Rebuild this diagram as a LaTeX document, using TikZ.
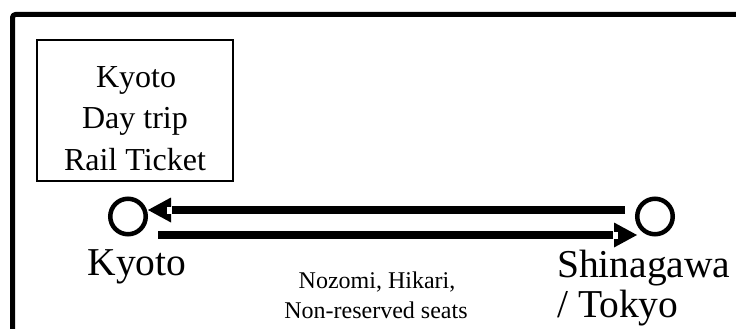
\documentclass[tikz,border=0pt]{standalone}
\usepackage{fontspec}
\setmainfont{Liberation Serif}
\usetikzlibrary{calc}
\tikzset{
  frameline/.style={line width=5pt, line join=round},
  ticketbox/.style={draw, line width=2pt, rectangle, minimum width=195.5pt, minimum height=141pt, inner sep=0pt},
  station/.style={draw, circle, line width=4.5pt, minimum size=35.5pt, inner sep=0pt},
  railbar/.style={line width=8pt},
  tickettext/.style={font=\fontsize{32}{40}\selectfont, anchor=base, inner sep=0pt},
  stationtext/.style={font=\fontsize{39.5}{40}\selectfont, anchor=base, inner sep=0pt},
  notetext/.style={font=\fontsize{24}{30}\selectfont, anchor=base, inner sep=0pt}
}
\begin{document}
\begin{tikzpicture}[x=1pt,y=-1pt]
\useasboundingbox (0,0) rectangle (736,329);
\clip (0,0) rectangle (736,329);
% outer frame (cut off at right and bottom)
\draw[frameline, rounded corners=3pt] (12.5,360) -- (12.5,14.5) -- (780,14.5);
% ticket box
\node[ticketbox] (ticket) at (134.75,110.5) {};
\node[tickettext] (tk1) at (136,87) {Kyoto};
\node[tickettext] (tk2) at (135,128.5) {Day trip};
\node[tickettext] (tk3) at (135,170) {Rail Ticket};
% stations
\node[station] (kyoto) at (128,216.5) {};
\node[station] (shin) at (655,216.5) {};
\node[stationtext] (kyotolbl) at (137,275) {Kyoto};
\node[stationtext, anchor=base west] (shinlbl1) at (557,277) {Shinagawa};
\node[stationtext, anchor=base west] (shinlbl2) at (557,317) {/ Tokyo};
\node[notetext] (note1) at (377,288) {Nozomi, Hikari,};
\node[notetext] (note2) at (376,318) {Non-reserved seats};
% upper arrow: Shinagawa -> Kyoto
\coordinate (utip) at ([shift={(20,-6.5)}]kyoto.center);
\coordinate (uend) at ([shift={(-30,-6.5)}]shin.center);
\draw[railbar] (uend) -- ([xshift=24]utip);
\fill (utip) -- ++(23,-12.5) -- ++(0,25) -- cycle;
\fill[white] ([shift={(19,-3.5)}]utip) rectangle ([shift={(24,3.5)}]utip);
% lower arrow: Kyoto -> Shinagawa
\coordinate (ltip) at ([shift={(-18,18.5)}]shin.center);
\coordinate (lstart) at ([shift={(30,18.5)}]kyoto.center);
\draw[railbar] (lstart) -- ([xshift=-24]ltip);
\fill (ltip) -- ++(-23,-12.5) -- ++(0,25) -- cycle;
\fill[white] ([shift={(-19,-3.5)}]ltip) rectangle ([shift={(-24,3.5)}]ltip);
\end{tikzpicture}
\end{document}
